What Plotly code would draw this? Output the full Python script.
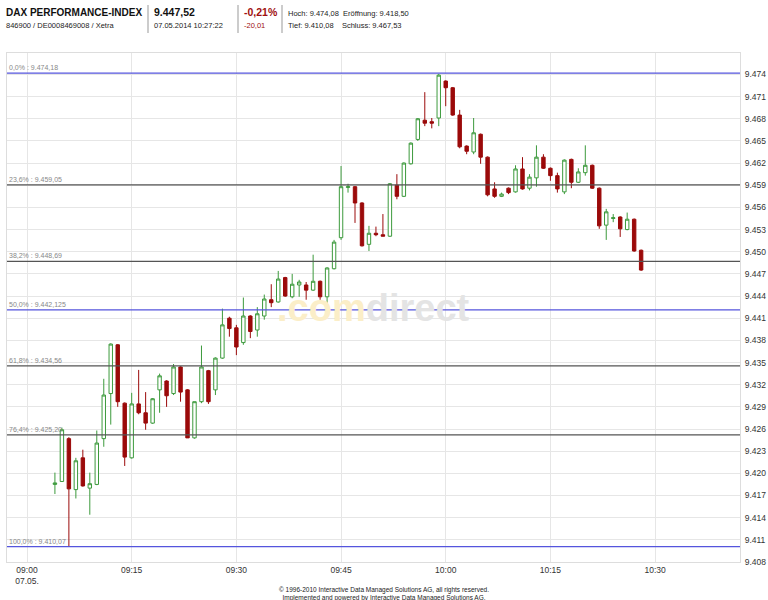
import plotly.graph_objects as go
import pandas as pd

# one-minute candles, 07.05.2014 from 09:04
start_time = "2014-05-07 09:04"
opens = [9418.5, 9418.9, 9424.7, 9417.8, 9422.1, 9418.0, 9418.5, 9424.7, 9430.8, 9437.4,
         9429.5, 9422.1, 9429.4, 9428.2, 9426.8, 9431.3, 9432.5, 9430.8, 9434.4, 9431.3,
         9424.8, 9429.7, 9433.9, 9431.3, 9435.6, 9441.0, 9439.7, 9437.7, 9441.3, 9439.4,
         9441.3, 9443.5, 9443.2, 9446.5, 9443.9, 9445.5, 9445.5, 9444.8, 9446.0, 9443.9,
         9447.7, 9451.9, 9458.7, 9458.8, 9456.6, 9451.0, 9452.5, 9452.3, 9452.1, 9459.0,
         9457.5, 9461.9, 9465.2, 9467.8, 9467.6, 9468.1, 9473.1, 9472.2, 9468.5, 9464.3,
         9463.5, 9465.9, 9462.8, 9458.5, 9457.5, 9458.6, 9458.1, 9461.2, 9458.6, 9460.0,
         9462.8, 9461.3, 9460.3, 9458.1, 9462.5, 9459.4, 9460.7, 9461.7, 9458.6, 9453.6,
         9454.5, 9454.7, 9453.0, 9454.4, 9450.2]
highs = [9420.1, 9426.2, 9424.9, 9422.1, 9423.2, 9420.1, 9425.8, 9432.8, 9437.6, 9437.5,
         9429.6, 9430.9, 9434.0, 9431.0, 9430.2, 9433.5, 9432.6, 9434.8, 9434.5, 9431.4,
         9429.7, 9437.3, 9434.0, 9435.7, 9442.3, 9441.2, 9440.1, 9443.8, 9441.4, 9442.5,
         9444.2, 9445.6, 9447.4, 9446.6, 9447.0, 9446.2, 9445.9, 9449.6, 9446.1, 9447.9,
         9451.6, 9461.6, 9459.2, 9458.9, 9456.7, 9453.5, 9453.4, 9455.1, 9459.3, 9460.5,
         9462.1, 9464.8, 9468.1, 9471.6, 9468.1, 9474.08, 9473.2, 9472.3, 9469.2, 9464.4,
         9468.1, 9466.0, 9462.9, 9459.4, 9458.0, 9458.7, 9461.7, 9462.8, 9460.5, 9464.4,
         9463.2, 9461.4, 9460.7, 9462.5, 9462.6, 9461.3, 9464.4, 9461.8, 9458.7, 9455.8,
         9455.1, 9454.8, 9455.3, 9454.5, 9450.3]
lows = [9417.2, 9418.9, 9410.1, 9416.6, 9418.2, 9414.4, 9418.4, 9423.6, 9426.6, 9429.0,
        9421.0, 9422.0, 9428.0, 9425.9, 9426.7, 9428.2, 9429.0, 9430.6, 9429.7, 9424.8,
        9424.7, 9429.5, 9429.4, 9430.6, 9435.5, 9438.5, 9436.0, 9437.4, 9438.3, 9438.5,
        9440.8, 9442.5, 9443.1, 9443.9, 9443.7, 9443.9, 9443.5, 9444.7, 9443.5, 9442.1,
        9447.6, 9451.6, 9458.0, 9453.9, 9450.7, 9450.1, 9452.1, 9452.1, 9452.0, 9457.1,
        9457.4, 9461.8, 9465.0, 9467.0, 9466.7, 9467.0, 9469.7, 9468.4, 9464.0, 9463.2,
        9463.2, 9461.9, 9457.5, 9457.3, 9457.4, 9457.8, 9458.0, 9458.4, 9458.3, 9458.8,
        9461.2, 9459.6, 9458.0, 9457.8, 9458.6, 9459.3, 9460.3, 9458.5, 9453.1, 9451.6,
        9454.0, 9452.0, 9452.9, 9450.0, 9447.4]
closes = [9418.7, 9425.9, 9417.9, 9421.7, 9418.3, 9418.6, 9424.1, 9430.6, 9437.5, 9429.7,
          9422.2, 9429.4, 9428.2, 9426.8, 9430.1, 9433.2, 9430.5, 9434.4, 9431.0, 9424.8,
          9429.7, 9434.4, 9429.7, 9435.6, 9440.1, 9439.6, 9437.1, 9441.3, 9439.2, 9441.6,
          9443.6, 9443.1, 9446.3, 9444.0, 9445.6, 9445.9, 9444.8, 9446.0, 9443.9, 9447.8,
          9451.3, 9458.8, 9458.8, 9456.6, 9450.8, 9452.5, 9452.3, 9452.1, 9459.2, 9457.5,
          9462.0, 9464.7, 9468.0, 9467.4, 9467.4, 9473.9, 9472.2, 9468.5, 9464.2, 9463.6,
          9466.1, 9462.8, 9457.7, 9457.5, 9457.8, 9458.0, 9461.2, 9458.5, 9460.1, 9462.8,
          9461.3, 9460.3, 9458.5, 9462.4, 9459.4, 9460.8, 9461.7, 9458.6, 9453.5, 9455.4,
          9454.6, 9453.1, 9454.4, 9450.1, 9447.52]

# Fibonacci retracement levels
fib_labels = ["0,0% : 9.474,18", "23,6% : 9.459,05", "38,2% : 9.448,69", "50,0% : 9.442,125",
              "61,8% : 9.434,56", "76,4% : 9.425,20", "100,0% : 9.410,07"]
fib_values = [9474.18, 9459.05, 9448.69, 9442.125, 9434.56, 9425.20, 9410.07]
fib_colors = ["#5555dd", "#555555", "#555555", "#5555dd", "#555555", "#555555", "#5555dd"]

y_ticks = list(range(9408, 9478, 3))
y_tick_text = ["9.%03d" % (v - 9000) for v in y_ticks]
x_ticks = ["2014-05-07 09:00", "2014-05-07 09:15", "2014-05-07 09:30", "2014-05-07 09:45",
           "2014-05-07 10:00", "2014-05-07 10:15", "2014-05-07 10:30"]
x_tick_text = ["09:00<br>07.05.", "09:15", "09:30", "09:45", "10:00", "10:15", "10:30"]

times = pd.date_range(start_time, periods=len(opens), freq="min")

fig = go.Figure(go.Candlestick(
    x=times, open=opens, high=highs, low=lows, close=closes,
    increasing=dict(line=dict(color="#3c9a3c", width=1), fillcolor="white"),
    decreasing=dict(line=dict(color="#9b0a0a", width=1), fillcolor="#9b0a0a"),
    whiskerwidth=0,
    showlegend=False,
))

for lab, val, col in zip(fib_labels, fib_values, fib_colors):
    fig.add_hline(y=val, line=dict(color=col, width=1.3))
    fig.add_annotation(x=0, xref="paper", y=val, yref="y", text=lab, showarrow=False,
                       xanchor="left", yanchor="bottom", font=dict(size=7, color="#888"))

# watermark
fig.add_annotation(x=0.5, xref="paper", y=0.5, yref="paper",
                   text="<b><span style='color:#fbeec8'>.com</span>"
                        "<span style='color:#e4e4e4'>direct</span></b>",
                   showarrow=False, font=dict(size=38, family="Arial"))

# header/footer placed in page pixels
L, R, T, B = 7, 28, 53, 38
W, H = 768 - L - R, 600 - T - B
px = lambda p: (p - L) / W
py = lambda p: (600 - B - p) / H

hdr = dict(xref="paper", yref="paper", showarrow=False, xanchor="left", yanchor="middle")
f = "Liberation Sans, Arial"
fig.add_annotation(x=px(4), y=py(12), text="<b>DAX PERFORMANCE-INDEX</b>",
                   font=dict(size=10, color="#111", family=f), **hdr)
fig.add_annotation(x=px(4), y=py(25), text="846900 / DE0008469008 / Xetra",
                   font=dict(size=7.5, color="#222", family=f), **hdr)
fig.add_annotation(x=px(152), y=py(12), text="<b>9.447,52</b>",
                   font=dict(size=10.5, color="#111", family=f), **hdr)
fig.add_annotation(x=px(152), y=py(25), text="07.05.2014 10:27:22",
                   font=dict(size=7.5, color="#222", family=f), **hdr)
fig.add_annotation(x=px(242), y=py(12), text="<b>-0,21%</b>",
                   font=dict(size=10.5, color="#a01010", family=f), **hdr)
fig.add_annotation(x=px(242), y=py(25), text="-20,01",
                   font=dict(size=7.5, color="#a01010", family=f), **hdr)
fig.add_annotation(x=px(286), y=py(13), text="Hoch: 9.474,08  Eröffnung: 9.418,50",
                   font=dict(size=7.5, color="#222", family=f), **hdr)
fig.add_annotation(x=px(286), y=py(25), text="Tief: 9.410,08    Schluss: 9.467,53",
                   font=dict(size=7.5, color="#222", family=f), **hdr)
for sx in [148, 238, 282]:
    fig.add_shape(type="line", xref="paper", yref="paper", x0=px(sx), x1=px(sx),
                  y0=py(33), y1=py(5), line=dict(color="#999", width=1))

fig.add_annotation(x=px(384), xref="paper", y=py(584), yref="paper", showarrow=False,
                   text="© 1996-2010 Interactive Data Managed Solutions AG, all rights reserved.<br>"
                        "Implemented and powered by Interactive Data Managed Solutions AG.",
                   font=dict(size=6.5, color="#222", family=f), yanchor="top")

fig.update_layout(
    width=768, height=600,
    margin=dict(l=L, r=R, t=T, b=B, autoexpand=False),
    plot_bgcolor="white", paper_bgcolor="white",
    font=dict(family=f, size=9, color="#333"),
    xaxis=dict(range=["2014-05-07 08:57:08", "2014-05-07 10:42:10"], rangeslider=dict(visible=False),
               tickvals=x_ticks, ticktext=x_tick_text, showgrid=True, gridcolor="#e6e6e6",
               showline=True, linecolor="#ddd", mirror=True, tickfont=dict(size=8.5),
               automargin=False),
    yaxis=dict(range=[9408.0, 9476.9], side="right", tickvals=y_ticks, ticktext=y_tick_text,
               showgrid=True, gridcolor="#e6e6e6", showline=True, linecolor="#ddd",
               mirror=True, tickfont=dict(size=8.5), ticklabelstandoff=2, automargin=False),
)

# drop the default page margin so the 768x600 figure fills the window
fig.write_html("out.html", config={"displayModeBar": False},
               post_script="document.body.style.margin='0';document.body.style.overflow='hidden';")
